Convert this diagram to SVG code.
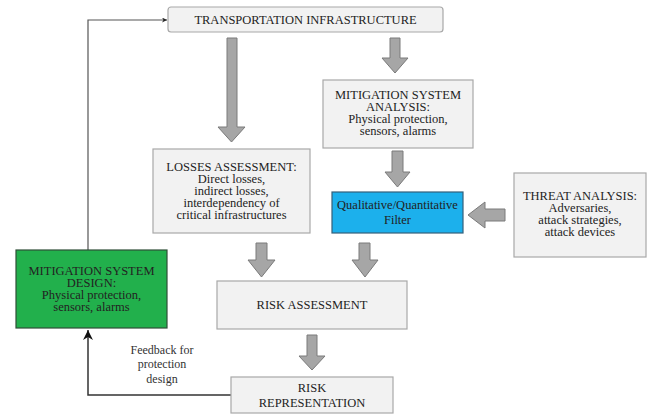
<svg xmlns="http://www.w3.org/2000/svg" width="654" height="414" viewBox="0 0 654 414">
<defs>
<style>
.box{fill:#f2f2f2;stroke:#a8a8a8;stroke-width:1.2}
.blue{fill:#1cb0ec;stroke:#35607a;stroke-width:1.2}
.green{fill:#22b04c;stroke:#2f4f38;stroke-width:1.2}
.arr{fill:#a6a6a6;stroke:#7a7a7a;stroke-width:1}
.ln{fill:none;stroke:#555;stroke-width:1.2}
.ln2{fill:none;stroke:#333;stroke-width:1.5}
text{font-family:"Liberation Serif","Times New Roman",serif;font-size:12.5px;fill:#222;text-anchor:middle}
.fb{font-size:12px;fill:#333}
</style>
<marker id="ah" viewBox="0 0 10 10" refX="10" refY="5" markerWidth="7" markerHeight="5" orient="auto" markerUnits="userSpaceOnUse">
<path d="M0,0 L10,5 L0,10 L3,5 Z" fill="#222"/>
</marker>
<marker id="ah2" viewBox="0 0 10 10" refX="10" refY="5" markerWidth="16" markerHeight="10" orient="auto" markerUnits="userSpaceOnUse">
<path d="M0,0 L10,5 L0,10 L3,5 Z" fill="#111"/>
</marker>
</defs>
<g id="connectors">
<polyline class="ln" points="88,250 88,20 167,20" marker-end="url(#ah)"/>
<polyline class="ln2" points="231,395 88,395 88,330" marker-end="url(#ah2)"/>
<polygon class="arr" points="227,38 237,38 237,127 245,127 231.5,142 218,127 227,127"/>
<polygon class="arr" points="390,38 400,38 400,58 408,58 395,73 382,58 390,58"/>
<polygon class="arr" points="392,151 403,151 403,172 410,172 397.5,187 385,172 392,172"/>
<polygon class="arr" points="256,243 267,243 267,260 275,260 261.5,277 248,260 256,260"/>
<polygon class="arr" points="359,243 370,243 370,260 378,260 365,277 352,260 359,260"/>
<polygon class="arr" points="307,335 317,335 317,356 325,356 312,370 299,356 307,356"/>
<polygon class="arr" points="505,209 485,209 485,202 468,215 485,228 485,221 505,221"/>
<text class="fb" x="162" y="354">Feedback for</text>
<text class="fb" x="162" y="368">protection</text>
<text class="fb" x="162" y="383">design</text>
</g>
<g id="transport">
<rect class="box" x="168" y="7" width="275" height="25" rx="3"/>
<text x="305.5" y="24">TRANSPORTATION INFRASTRUCTURE</text>
</g>
<g id="mitigation-analysis">
<rect class="box" x="323" y="80" width="150" height="68"/>
<text x="398" y="99">MITIGATION SYSTEM</text>
<text x="398" y="111">ANALYSIS:</text>
<text x="398" y="123">Physical protection,</text>
<text x="398" y="135">sensors, alarms</text>
</g>
<g id="losses">
<rect class="box" x="153" y="149" width="157" height="84"/>
<text x="231.5" y="171">LOSSES ASSESSMENT:</text>
<text x="231.5" y="183">Direct losses,</text>
<text x="231.5" y="195">indirect losses,</text>
<text x="231.5" y="207">interdependency of</text>
<text x="231.5" y="219">critical infrastructures</text>
</g>
<g id="filter">
<rect class="blue" x="332" y="192" width="131" height="41"/>
<text x="397.5" y="209">Qualitative/Quantitative</text>
<text x="397.5" y="224">Filter</text>
</g>
<g id="threat">
<rect class="box" x="514" y="173" width="132" height="84"/>
<text x="580" y="200">THREAT ANALYSIS:</text>
<text x="580" y="212">Adversaries,</text>
<text x="580" y="224">attack strategies,</text>
<text x="580" y="236">attack devices</text>
</g>
<g id="design">
<rect class="green" x="16" y="250" width="151" height="78"/>
<text x="91.5" y="275">MITIGATION SYSTEM</text>
<text x="91.5" y="287">DESIGN:</text>
<text x="91.5" y="299">Physical protection,</text>
<text x="91.5" y="311">sensors, alarms</text>
</g>
<g id="risk-assessment">
<rect class="box" x="217" y="281" width="190" height="48"/>
<text x="312" y="309">RISK ASSESSMENT</text>
</g>
<g id="risk-representation">
<rect class="box" x="231" y="377" width="162" height="36"/>
<text x="312" y="392">RISK</text>
<text x="312" y="407">REPRESENTATION</text>
</g>
</svg>
